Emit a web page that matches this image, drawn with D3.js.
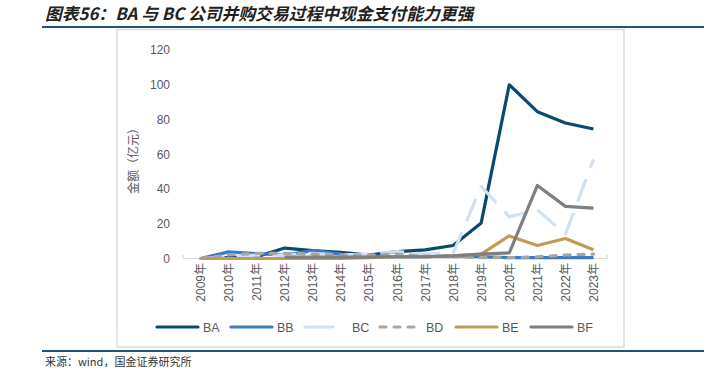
<!DOCTYPE html>
<html>
<head>
<meta charset="utf-8" />
<title>BA 与 BC 现金支付能力</title>
<style>
body { margin: 0; background: #fff; }
svg { display: block; font-family: "Liberation Sans", Arial, "Noto Sans CJK SC", sans-serif; }
</style>
</head>
<body>
<div id="chart"></div>
<script src="https://d3js.org/d3.v7.min.js"></script>
<script>
// 数据（亿元）
var years = ["2009年","2010年","2011年","2012年","2013年","2014年","2015年","2016年","2017年","2018年","2019年","2020年","2021年","2022年","2023年"];
var yTicks = [0, 20, 40, 60, 80, 100, 120];
var seriesNames = ["BA", "BB", "BC", "BD", "BE", "BF"];

var BA = [0, 0.5, 1, 6, 4.5, 3.5, 2, 4, 5, 7.5, 20.5, 100, 84.5, 78, 74.5];
var BB = [0, 3.8, 2.8, 2, 4.5, 2.5, 1.5, 1, 1, 1.5, 1, 0.5, 0.5, 0.5, 0.5];
var BC = [0, 1, 2, 2, 3, 2, 2.5, 4, 2.5, 3, 41.5, 24, 28, 14, 57];
var BD = [0, 2, 3, 3, 2.5, 2, 2, 2.5, 1.5, 1, 0.5, 0.5, 1, 2, 2.5];
var BE = [0, 0, 0, 0, 0, 0, 0.5, 1, 1, 1.5, 2.5, 13, 7.5, 11.5, 5];
var BF = [null, null, null, 0.8, 0.8, 0.8, 0.8, 1, 1, 1.5, 2.5, 3.2, 42, 30, 29];

var values = [BA, BB, BC, BD, BE, BF];
var colors = ["#0b4a6f", "#3a7bc4", "#cfe1f3", "#a6a6a6", "#c19b55", "#7f7f7f"];
var dashes = [null, null, "24 12", "6 8", null, null];

var width = 724, height = 372;

var svg = d3.select("#chart").append("svg")
    .attr("width", width)
    .attr("height", height);

// 标题
svg.append("text")
    .attr("x", 45)
    .attr("y", 20)
    .attr("font-family", "'Noto Sans CJK SC', sans-serif")
    .attr("font-size", 16.8)
    .attr("font-weight", "bold")
    .attr("font-style", "italic")
    .attr("fill", "#222")
    .text("图表56：BA 与 BC 公司并购交易过程中现金支付能力更强");

svg.append("line")
    .attr("x1", 42).attr("x2", 704)
    .attr("y1", 27).attr("y2", 27)
    .attr("stroke", "#1f5378").attr("stroke-width", 2);

// 图框
svg.append("rect")
    .attr("x", 117).attr("y", 29.5)
    .attr("width", 507).attr("height", 317.5)
    .attr("fill", "none")
    .attr("stroke", "#dcdcdc").attr("stroke-width", 1.5);

var x = d3.scaleBand().domain(years).range([186.5, 607.5]);
var y = d3.scaleLinear().domain([0, 120]).range([258.5, 50]);

// y 轴
var yAxis = svg.append("g")
    .attr("transform", "translate(172,0)")
    .call(d3.axisLeft(y).tickValues(yTicks).tickSize(0).tickPadding(2));
yAxis.select(".domain").remove();
yAxis.selectAll("text")
    .attr("font-size", 12)
    .attr("fill", "#595959");

svg.append("text")
    .attr("transform", "translate(138,158) rotate(-90)")
    .attr("text-anchor", "middle")
    .attr("font-family", "'Noto Sans CJK SC', sans-serif")
    .attr("font-size", 12)
    .attr("fill", "#595959")
    .text("金额（亿元）");

// x 轴
svg.append("line")
    .attr("x1", 183).attr("x2", 607)
    .attr("y1", 258.5).attr("y2", 258.5)
    .attr("stroke", "#d9d9d9").attr("stroke-width", 1.2);
[183, 607].forEach(function(px) {
    svg.append("line")
        .attr("x1", px).attr("x2", px)
        .attr("y1", 255).attr("y2", 258.5)
        .attr("stroke", "#d9d9d9").attr("stroke-width", 1.2);
});

svg.append("g").selectAll("text")
    .data(years)
    .enter().append("text")
    .attr("transform", function(d) {
        return "translate(" + (x(d) + x.bandwidth() / 2 + 4.5) + ",263) rotate(-90)";
    })
    .attr("text-anchor", "end")
    .attr("font-size", 12)
    .attr("fill", "#595959")
    .text(function(d) { return d; });

// 折线
var line = d3.line()
    .defined(function(d) { return d.v != null; })
    .x(function(d) { return x(d.year) + x.bandwidth() / 2; })
    .y(function(d) { return y(d.v); });

seriesNames.forEach(function(name, i) {
    var pts = years.map(function(yr, j) { return { year: yr, v: values[i][j] }; });
    svg.append("path")
        .datum(pts)
        .attr("d", line)
        .attr("fill", "none")
        .attr("stroke", colors[i])
        .attr("stroke-width", 3.2)
        .attr("stroke-linejoin", "round")
        .attr("stroke-linecap", dashes[i] == "6 8" ? "round" : "butt")
        .attr("stroke-dasharray", dashes[i]);
});

// 图例
var legendX = [157, 231, 305, 380, 456, 531];
var legend = svg.append("g");
seriesNames.forEach(function(name, i) {
    var g = legend.append("g").attr("transform", "translate(" + legendX[i] + ",327)");
    g.append("line")
        .attr("x1", 0).attr("x2", i == 2 ? 28 : (i == 3 ? 38 : 41))
        .attr("y1", 0).attr("y2", 0)
        .attr("stroke", colors[i])
        .attr("stroke-width", 3.2)
        .attr("stroke-linecap", "round")
        .attr("stroke-dasharray", i == 3 ? "6 8" : null);
    g.append("text")
        .attr("x", i == 2 ? 47 : 46)
        .attr("y", 4.5)
        .attr("font-size", 12.5)
        .attr("fill", "#595959")
        .text(name);
});

svg.append("line")
    .attr("x1", 42).attr("x2", 704)
    .attr("y1", 351).attr("y2", 351)
    .attr("stroke", "#1f5378").attr("stroke-width", 2);

svg.append("text")
    .attr("x", 45)
    .attr("y", 366)
    .attr("font-family", "'Noto Sans CJK SC', sans-serif")
    .attr("font-size", 11)
    .attr("fill", "#333")
    .text("来源：wind，国金证券研究所");
</script>
</body>
</html>
